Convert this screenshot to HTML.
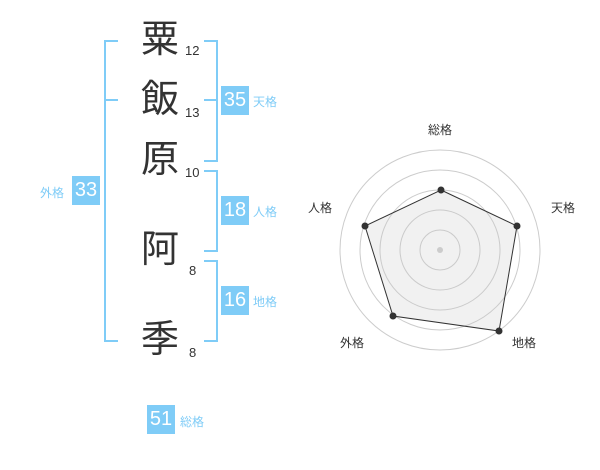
<!DOCTYPE html>
<html><head><meta charset="utf-8"><style>
body{margin:0;width:600px;height:470px;background:#fff;position:relative;overflow:hidden;font-family:"Liberation Sans","Noto Sans CJK JP",sans-serif}
.k{position:absolute;left:140px;width:40px;text-align:center;font-size:38px;line-height:40px;color:#333}
.n{position:absolute;left:185px;font-size:13px;color:#333;line-height:14px}
.b{position:absolute;width:28px;height:29px;background:#7fccf7;color:#fff;font-size:20px;line-height:29px;text-align:center}
.l{position:absolute;font-size:12px;color:#7fccf7;line-height:14px}
.br{position:absolute;border:2px solid #7fccf7}
</style></head><body>
<div class="k" style="top:20px">粟</div>
<div class="k" style="top:80px">飯</div>
<div class="k" style="top:140px">原</div>
<div class="k" style="top:230px">阿</div>
<div class="k" style="top:320px">季</div>
<div class="n" style="top:44px">12</div>
<div class="n" style="top:106px">13</div>
<div class="n" style="top:166px">10</div>
<div class="n" style="left:189px;top:264px">8</div>
<div class="n" style="left:189px;top:346px">8</div>
<div class="br" style="left:104px;top:40px;width:12px;height:298px;border-right:none"></div>
<div style="position:absolute;left:104px;top:99px;width:14px;height:2px;background:#7fccf7"></div>
<div class="br" style="left:204px;top:40px;width:12px;height:118px;border-left:none"></div>
<div style="position:absolute;left:204px;top:99px;width:14px;height:2px;background:#7fccf7"></div>
<div class="br" style="left:204px;top:170px;width:12px;height:78px;border-left:none"></div>
<div class="br" style="left:204px;top:260px;width:12px;height:78px;border-left:none"></div>
<div class="b" style="left:221px;top:86px">35</div><div class="l" style="left:253px;top:95px">天格</div>
<div class="b" style="left:221px;top:196px">18</div><div class="l" style="left:253px;top:205px">人格</div>
<div class="b" style="left:221px;top:286px">16</div><div class="l" style="left:253px;top:295px">地格</div>
<div class="b" style="left:72px;top:176px">33</div><div class="l" style="left:40px;top:186px">外格</div>
<div class="b" style="left:147px;top:405px">51</div><div class="l" style="left:180px;top:415px">総格</div>
<svg style="position:absolute;left:0;top:0" width="600" height="470">
<g fill="none" stroke="#ccc" stroke-width="1">
<circle cx="440" cy="250" r="20"/><circle cx="440" cy="250" r="40"/><circle cx="440" cy="250" r="60"/><circle cx="440" cy="250" r="80"/><circle cx="440" cy="250" r="100"/></g>
<polygon points="441,190 517,226 499,331 393,316 365,226" fill="rgba(200,200,200,0.25)" stroke="#333" stroke-width="1"/>
<g fill="#333"><circle cx="441" cy="190" r="3.5"/><circle cx="517" cy="226" r="3.5"/><circle cx="499" cy="331" r="3.5"/><circle cx="393" cy="316" r="3.5"/><circle cx="365" cy="226" r="3.5"/></g>
<circle cx="440" cy="250" r="3" fill="#ccc"/>
<g font-size="12" fill="#333" text-anchor="middle" font-family="Liberation Sans,Noto Sans CJK JP,sans-serif">
<text x="440" y="134">総格</text><text x="563" y="212">天格</text><text x="524" y="347">地格</text><text x="352" y="347">外格</text><text x="320" y="212">人格</text></g>
</svg>
</body></html>
